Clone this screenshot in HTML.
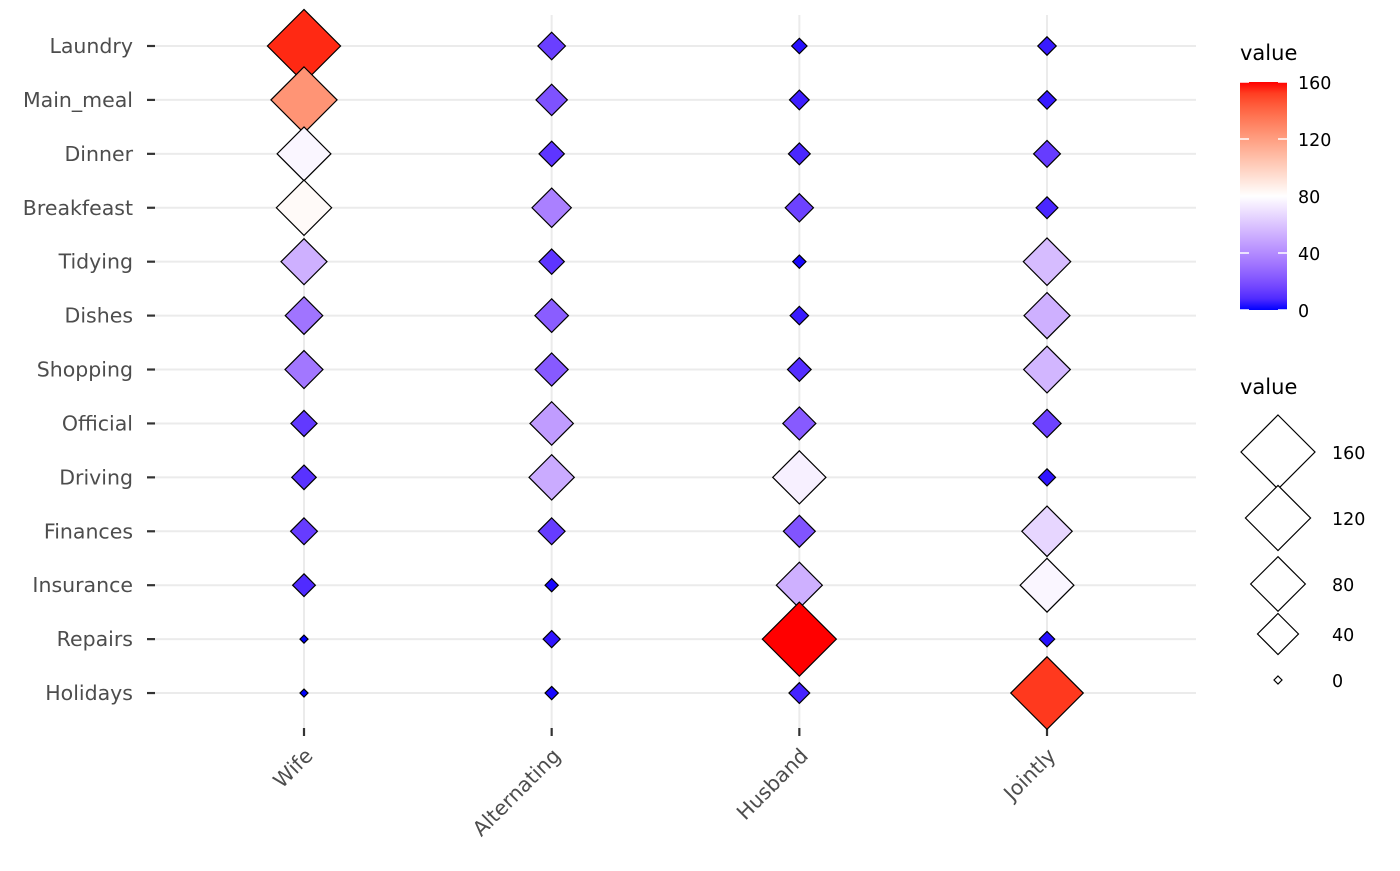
<!DOCTYPE html>
<html><head><meta charset="utf-8"><style>
html,body{margin:0;padding:0;background:#fff;}
svg text{font-family:"DejaVu Sans","Liberation Sans",sans-serif;}
</style></head><body>
<svg id="chart" width="1400" height="866" xmlns="http://www.w3.org/2000/svg">
<g id="grid"></g>
<g id="axes"></g>
<g id="marks"></g>
<g id="legend">
<defs><linearGradient id="cg" x1="0" y1="1" x2="0" y2="0"></linearGradient></defs>
<text x="1240" y="60" font-size="21" fill="#000">value</text>
<rect x="1240" y="82" width="47" height="228" fill="url(#cg)"/>
<text x="1240" y="394" font-size="21" fill="#000">value</text>
</g>
</svg>
<script>
const rows = ["Laundry","Main_meal","Dinner","Breakfeast","Tidying","Dishes","Shopping","Official","Driving","Finances","Insurance","Repairs","Holidays"];
const cols = ["Wife","Alternating","Husband","Jointly"];
const wife = [156,124,77,82,53,32,33,12,10,13,8,0,0];
const alternating = [14,20,11,36,11,24,23,46,51,13,1,3,1];
const husband = [2,5,7,15,1,4,9,23,75,21,53,160,6];
const jointly = [4,4,13,7,57,53,55,15,3,66,77,2,153];
const series = [wife, alternating, husband, jointly];
const colorTicks = [160,120,80,40,0];
const sizeTicks = [160,120,80,40,0];

const NS="http://www.w3.org/2000/svg";
function mk(tag,attrs,parent){const e=document.createElementNS(NS,tag);for(const k in attrs)e.setAttribute(k,attrs[k]);parent.appendChild(e);return e;}
const xScale=i=>304+i*247.67;
const yScale=i=>46+i*53.92;
const vmax=160;
const half=v=>4+33*Math.sqrt(v/vmax);
function toLin(c){c/=255;return c<=0.04045?c/12.92:Math.pow((c+0.055)/1.055,2.4);}
function fromLin(c){c=c<=0.0031308?12.92*c:1.055*Math.pow(c,1/2.4)-0.055;return Math.max(0,Math.min(255,Math.round(c*255)));}
const Xn=0.95047,Yn=1,Zn=1.08883;
function f(t){return t>0.008856?Math.cbrt(t):7.787*t+16/116;}
function fi(t){return t>0.206893?t*t*t:(t-16/116)/7.787;}
function rgb2lab(r,g,b){r=toLin(r);g=toLin(g);b=toLin(b);
 const X=0.4124*r+0.3576*g+0.1805*b,Y=0.2126*r+0.7152*g+0.0722*b,Z=0.0193*r+0.1192*g+0.9505*b;
 const fx=f(X/Xn),fy=f(Y/Yn),fz=f(Z/Zn);return [116*fy-16,500*(fx-fy),200*(fy-fz)];}
function lab2rgb(L,a,bb){const fy=(L+16)/116,fx=fy+a/500,fz=fy-bb/200;
 const X=Xn*fi(fx),Y=Yn*fi(fy),Z=Zn*fi(fz);
 const r=3.2406*X-1.5372*Y-0.4986*Z,g=-0.9689*X+1.8758*Y+0.0415*Z,b=0.0557*X-0.2040*Y+1.0570*Z;
 return [fromLin(r),fromLin(g),fromLin(b)];}
const LB=rgb2lab(0,0,255),LW=rgb2lab(255,255,255),LR=rgb2lab(255,0,0);
function color(v){
  const t=Math.max(0,Math.min(1,v/vmax));
  let A,B,u;
  if(t<0.5){A=LB;B=LW;u=t/0.5;}else{A=LW;B=LR;u=(t-0.5)/0.5;}
  const c=lab2rgb(A[0]+(B[0]-A[0])*u,A[1]+(B[1]-A[1])*u,A[2]+(B[2]-A[2])*u);
  return `rgb(${c[0]},${c[1]},${c[2]})`;
}
const cg=document.getElementById('cg');
for(let k=0;k<=20;k++){mk('stop',{offset:k/20,'stop-color':color(vmax*k/20)},cg);}
const grid=document.getElementById('grid'),axes=document.getElementById('axes'),marks=document.getElementById('marks'),legend=document.getElementById('legend');
rows.forEach((r,i)=>{
  const y=yScale(i);
  let l=mk('line',{x1:155,x2:1196,y1:y,y2:y,stroke:'#ebebeb','stroke-width':2},grid);
  
  
  let t=mk('line',{x1:147,x2:155,y1:y,y2:y,stroke:'#333','stroke-width':2.2},axes);
  
  
  let tx=mk('text',{x:133,y:y+7,'font-size':20.5,fill:'#4d4d4d','text-anchor':'end'},axes);
  tx.textContent=r;
  
  
});
cols.forEach((c,j)=>{
  const x=xScale(j);
  let l=mk('line',{x1:x,x2:x,y1:15,y2:728,stroke:'#ebebeb','stroke-width':2},grid);
  
  
  let t=mk('line',{x1:x,x2:x,y1:728,y2:736,stroke:'#333','stroke-width':2.2},axes);
  
  
  let tx=mk('text',{x:x+10,y:757,'font-size':20.5,fill:'#4d4d4d','text-anchor':'end',transform:`rotate(-45 ${x+10} 757)`},axes);
  tx.textContent=c;
  
  
});
series.forEach((vals,j)=>{
  vals.forEach((v,i)=>{
    const x=xScale(j),y=yScale(i),h=half(v);
    let p=mk('polygon',{points:`${x},${y-h} ${x+h},${y} ${x},${y+h} ${x-h},${y}`,fill:color(v),stroke:'#000','stroke-width':1.2},marks);
    
    
  });
});
colorTicks.forEach(v=>{
  const y=310-(v/vmax)*228;
  let a=mk('line',{x1:1240,x2:1249,y1:y,y2:y,stroke:'#fff','stroke-width':1.5},legend);
  
  
  let b=mk('line',{x1:1278,x2:1287,y1:y,y2:y,stroke:'#fff','stroke-width':1.5},legend);
  
  
  let t=mk('text',{x:1298,y:y+7,'font-size':17.5,fill:'#000'},legend);
  t.textContent=v;
  
  
});
const sizeY=[452,518,584,634,680];
sizeTicks.forEach((v,k)=>{
  const y=sizeY[k],x=1278,h=half(v);
  let p=mk('polygon',{points:`${x},${y-h} ${x+h},${y} ${x},${y+h} ${x-h},${y}`,fill:'#fff',stroke:'#000','stroke-width':1.2},legend);
  
  
  let t=mk('text',{x:1332,y:y+7,'font-size':17.5,fill:'#000'},legend);
  t.textContent=v;
  
  
});
</script>
</body></html>
